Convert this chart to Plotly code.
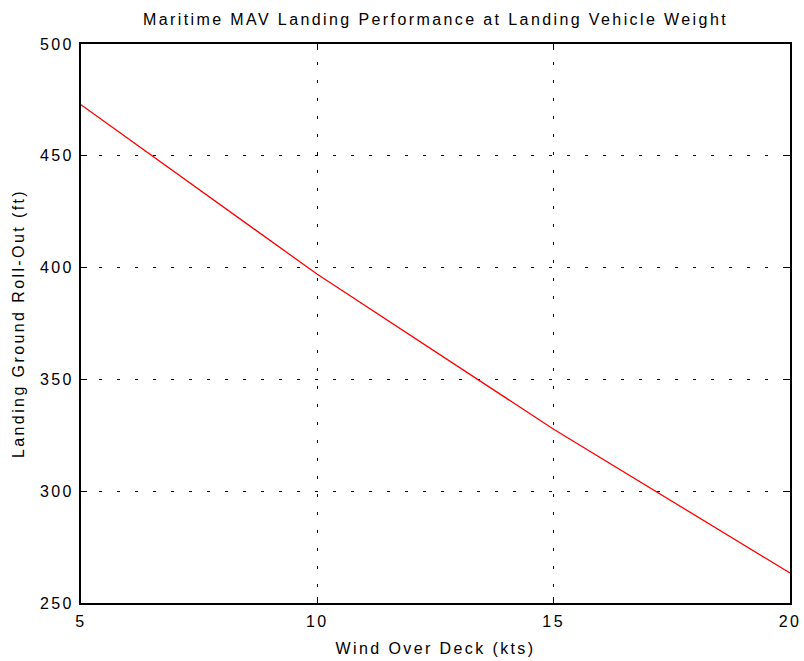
import plotly.graph_objects as go

wind_kts = [5, 10, 15, 20]
rollout_ft = [472.8, 397.0, 327.7, 263.4]

x_ticks = [5, 10, 15, 20]
y_ticks = [250, 300, 350, 400, 450, 500]

font_family = "Liberation Sans, Arial, Helvetica, sans-serif"
txt = dict(family=font_family, size=16, color="black")

fig = go.Figure()
fig.add_trace(go.Scatter(x=wind_kts, y=rollout_ft, mode="lines",
                         line=dict(color="#ff0000", width=1.3),
                         showlegend=False))

axis_common = dict(showline=True, linecolor="black", linewidth=2, mirror="ticks",
                   ticks="inside", ticklen=6, tickcolor="black", tickwidth=1,
                   showgrid=True, gridcolor="black", griddash="3px,15px", gridwidth=1,
                   zeroline=False, automargin=False, tickfont=txt)

fig.update_layout(
    width=804, height=661,
    margin=dict(l=81, r=14, t=44, b=58),
    paper_bgcolor="white", plot_bgcolor="white",
    title=dict(text="Maritime MAV Landing Performance at Landing Vehicle Weight",
               x=0.5, xref="paper", y=1 - 19 / 661, yanchor="middle", font=txt),
    xaxis=dict(range=[5, 20], tickvals=x_ticks, ticktext=[str(v) for v in x_ticks],
               ticklabelstandoff=3,
               title=dict(text="Wind Over Deck (kts)", standoff=14, font=txt),
               **axis_common),
    yaxis=dict(range=[250, 500], tickvals=y_ticks, ticktext=[str(v) for v in y_ticks],
               ticklabelstandoff=2,
               title=dict(text="Landing Ground Roll-Out (ft)", standoff=18, font=txt),
               **axis_common),
)

css_js = (
    "var s=document.createElement('style');"
    "s.textContent='.gtitle,.xtitle,.ytitle,.xtick text,.ytick text{letter-spacing:2.4px}';"
    "document.head.appendChild(s);"
)

fig.write_html("out.html", post_script=css_js)
